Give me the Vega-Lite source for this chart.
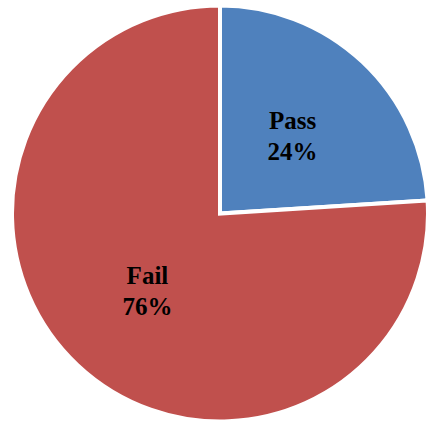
{
  "$schema": "https://vega.github.io/schema/vega-lite/v6.json",
  "width": 427,
  "height": 425,
  "autosize": {"type": "fit", "contains": "padding"},
  "padding": {"left": 13, "right": 0, "top": 5, "bottom": 3},
  "background": "white",
  "data": {
    "values": [
      {"category": "Pass", "value": 24, "order": 1, "label": "Pass\n24%"},
      {"category": "Fail", "value": 76, "order": 2, "label": "Fail\n76%"}
    ]
  },
  "encoding": {
    "theta": {"field": "value", "type": "quantitative", "stack": true},
    "order": {"field": "order", "type": "quantitative"}
  },
  "layer": [
    {
      "mark": {"type": "arc", "outerRadius": 208, "stroke": "white", "strokeWidth": 4},
      "encoding": {
        "color": {
          "field": "category",
          "type": "nominal",
          "scale": {"domain": ["Pass", "Fail"], "range": ["#4F81BD", "#C0504D"]},
          "legend": null
        }
      }
    },
    {
      "mark": {
        "type": "text",
        "radius": 106,
        "dy": -15,
        "font": "Liberation Serif",
        "fontWeight": "bold",
        "fontSize": 25,
        "lineBreak": "\n",
        "lineHeight": 31,
        "align": "center",
        "baseline": "middle",
        "color": "black"
      },
      "encoding": {
        "text": {"field": "label", "type": "nominal"}
      }
    }
  ],
  "config": {"view": {"stroke": null}}
}
